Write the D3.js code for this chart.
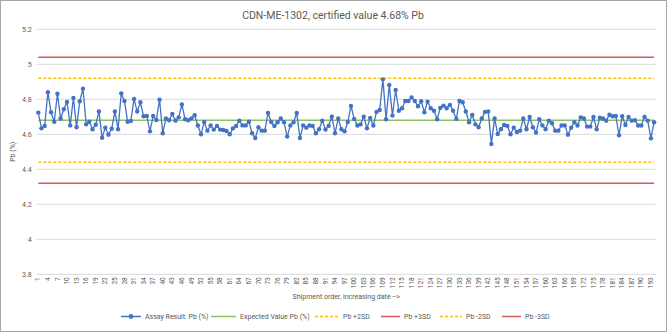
<!DOCTYPE html>
<html><head><meta charset="utf-8">
<script src="https://cdn.jsdelivr.net/npm/d3@7"></script>
<style>
html,body{margin:0;padding:0;background:#fff;}
text{font-family:"Liberation Sans Narrow","Roboto","Liberation Sans",sans-serif;fill:#595959;}
</style></head>
<body><svg id="chart" width="667" height="332"></svg>
<script>
const title = "CDN-ME-1302, certified value 4.68% Pb";
const yTicks = [3.8, 4, 4.2, 4.4, 4.6, 4.8, 5, 5.2];
const assay = [
4.724,4.634,4.648,4.84,4.726,4.672,4.832,4.69,4.743,4.785,
4.651,4.808,4.64,4.789,4.861,4.657,4.672,4.629,4.655,4.73,
4.58,4.638,4.598,4.632,4.73,4.629,4.834,4.79,4.672,4.676,
4.802,4.73,4.783,4.703,4.705,4.617,4.705,4.682,4.798,4.606,
4.69,4.68,4.716,4.678,4.697,4.771,4.686,4.68,4.691,4.709,
4.65,4.6,4.67,4.621,4.65,4.627,4.648,4.627,4.625,4.619,
4.6,4.634,4.648,4.678,4.651,4.651,4.672,4.606,4.579,4.64,
4.621,4.621,4.722,4.67,4.648,4.669,4.69,4.669,4.587,4.651,
4.669,4.722,4.579,4.651,4.638,4.65,4.648,4.606,4.629,4.678,
4.627,4.648,4.701,4.606,4.691,4.629,4.617,4.67,4.762,4.688,
4.65,4.657,4.701,4.634,4.693,4.65,4.728,4.739,4.914,4.686,
4.882,4.707,4.853,4.735,4.749,4.79,4.79,4.811,4.79,4.76,
4.789,4.726,4.787,4.749,4.735,4.686,4.751,4.764,4.749,4.768,
4.735,4.688,4.79,4.783,4.73,4.669,4.71,4.657,4.64,4.69,
4.728,4.731,4.545,4.69,4.602,4.629,4.653,4.648,4.6,4.638,
4.613,4.621,4.69,4.629,4.699,4.64,4.61,4.686,4.651,4.629,
4.678,4.663,4.621,4.621,4.651,4.651,4.598,4.638,4.669,4.65,
4.697,4.69,4.644,4.644,4.699,4.629,4.695,4.69,4.678,4.712,
4.703,4.705,4.594,4.703,4.653,4.699,4.678,4.68,4.65,4.65,
4.699,4.678,4.577,4.669];
const categories = assay.map((d,i)=>i+1);
const expected = 4.68;
const plus2SD = 4.92, plus3SD = 5.04, minus2SD = 4.44, minus3SD = 4.32;
const legendLabels = ["Assay Result: Pb (%)","Expected Value Pb (%)","Pb +2SD","Pb +3SD","Pb -2SD","Pb -3SD"];

const svg = d3.select("#chart");
const L = 36.7, R = 655.7, T = 29.3, B = 274.3;

svg.append("rect").attr("x",0.5).attr("y",0.5).attr("width",666).attr("height",331)
  .attr("fill","#fff").attr("stroke","#a6a6a6");

const x = d3.scaleBand().domain(categories).range([L,R]);
const y = d3.scaleLinear().domain([3.8,5.2]).range([B,T]);
const cx = c => x(c) + x.bandwidth()/2;

// gridlines
svg.append("g").selectAll("line").data(yTicks).join("line")
  .attr("x1",L).attr("x2",R).attr("y1",d=>y(d)).attr("y2",d=>y(d))
  .attr("stroke","#d9d9d9").attr("stroke-width",1);

// y axis labels
const yAxis = d3.axisLeft(y).tickValues(yTicks).tickSize(0).tickPadding(0).tickFormat(d3.format("~g"));
const gy = svg.append("g").attr("transform",`translate(${L-5},0)`).call(yAxis);
gy.select(".domain").remove();
gy.selectAll("text").style("font-size","7px").attr("fill","#7f7f7f").attr("dy","0.32em");

// x axis labels
const xAxis = d3.axisBottom(x).tickValues(categories.filter(c=>(c-1)%3===0)).tickSize(0).tickPadding(0);
const gx = svg.append("g").attr("transform",`translate(0,${B+3})`).call(xAxis);
gx.select(".domain").remove();
gx.selectAll("text").style("font-size","6.5px").attr("fill","#7f7f7f")
  .attr("transform","rotate(-90)").attr("text-anchor","end").attr("x",0).attr("y",0).attr("dy","0.32em");

// reference lines
const refs = [
  {v:expected, c:"#8cc168", dash:null},
  {v:plus2SD, c:"#ffc000", dash:"3,2"},
  {v:plus3SD, c:"#d9585a", dash:null},
  {v:minus2SD, c:"#ffc000", dash:"3,2"},
  {v:minus3SD, c:"#d9585a", dash:null}
];
const first = categories[0], last = categories[categories.length-1];
svg.append("g").selectAll("line").data(refs).join("line")
  .attr("x1",cx(first)).attr("x2",cx(last)).attr("y1",d=>y(d.v)).attr("y2",d=>y(d.v))
  .attr("stroke",d=>d.c).attr("stroke-width",1.5).attr("stroke-dasharray",d=>d.dash);

// assay line
const line = d3.line().x((d,i)=>cx(categories[i])).y(d=>y(d));
svg.append("path").datum(assay).attr("d",line).attr("fill","none")
  .attr("stroke","#4472c4").attr("stroke-width",1.3);
svg.append("g").selectAll("circle").data(assay).join("circle")
  .attr("cx",(d,i)=>cx(categories[i])).attr("cy",d=>y(d)).attr("r",2.2)
  .attr("fill","#4472c4");

// title
svg.append("text").attr("x",333).attr("y",19).attr("text-anchor","middle")
  .style("font-size","10.5px").text(title);

// axis titles
svg.append("text").attr("transform",`translate(15,${(T+B)/2}) rotate(-90)`).attr("text-anchor","middle")
  .style("font-size","7px").text("Pb (%)");
svg.append("text").attr("x",(L+R)/2).attr("y",299).attr("text-anchor","middle")
  .style("font-size","7px").text("Shipment order, increasing date -->");

// legend
const legItems = [
  {lx:121, tx:145, c:"#4472c4", dash:null, marker:true},
  {lx:211, tx:240, c:"#8cc168", dash:null},
  {lx:315, tx:343, c:"#ffc000", dash:"3,2"},
  {lx:381, tx:404, c:"#d9585a", dash:null},
  {lx:440, tx:466, c:"#ffc000", dash:"3,2"},
  {lx:502, tx:525, c:"#d9585a", dash:null}
];
const ly = 316.5;
const lg = svg.append("g").selectAll("g").data(legItems).join("g");
lg.append("line").attr("x1",d=>d.lx).attr("x2",d=>d.tx-4).attr("y1",ly).attr("y2",ly)
  .attr("stroke",d=>d.c).attr("stroke-width",1.5).attr("stroke-dasharray",d=>d.dash);
lg.filter(d=>d.marker).append("circle").attr("cx",d=>(d.lx+d.tx-4)/2).attr("cy",ly).attr("r",2.4).attr("fill","#4472c4");
lg.append("text").attr("x",d=>d.tx).attr("y",ly).attr("dy","0.32em")
  .style("font-size","7px").text((d,i)=>legendLabels[i]);
</script></body></html>
